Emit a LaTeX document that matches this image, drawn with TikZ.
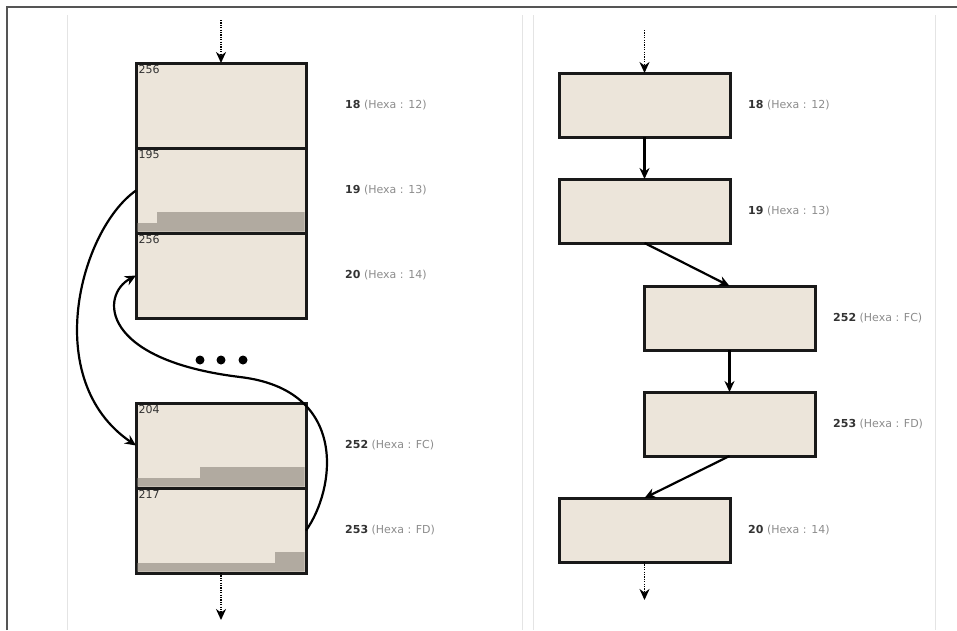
\documentclass[tikz,border=0pt]{standalone}
\usepackage{fontspec}
\setmainfont{DejaVu Sans}
\usetikzlibrary{arrows.meta,positioning}
\definecolor{boxfill}{HTML}{ECE5DA}
\definecolor{barfill}{HTML}{B1AAA0}
\definecolor{lblgray}{HTML}{8C8C8C}
\definecolor{numgray}{HTML}{333333}
\definecolor{rulegray}{HTML}{E4E4E4}
\definecolor{framegray}{HTML}{555555}
\tikzset{
  blk/.style={draw=black!90, line width=3pt, fill=boxfill, minimum width=170pt,
    minimum height=85pt, inner sep=0pt, outer sep=0pt},
  rblk/.style={blk, minimum width=171pt, minimum height=64pt},
  lnk/.style={line width=2.2pt, -{Stealth[length=11pt,width=10pt]}},
  dotlnk/.style={lnk, line width=1.8pt, dash pattern=on 1.2pt off 1.2pt},
  lbl/.style={font=\fontsize{11}{13}\selectfont, text=lblgray, inner sep=0pt},
  num/.style={font=\fontsize{11}{13}\selectfont, text=numgray, inner sep=2.5pt, anchor=north west},
}
\newcommand{\hexa}[2]{\textbf{\color{numgray}#1} (Hexa : #2)}
\begin{document}
\begin{tikzpicture}[x=1pt,y=-1pt]
 \useasboundingbox (0,0) rectangle (957,630);
 % frame and page rules
 \draw[framegray, line width=1.2pt] (7,630) -- (7,7) -- (957,7);
 \foreach \x in {67,522,533,935}
   \draw[rulegray, line width=1pt] (\x,15) -- (\x,630);

 % left: blocks on disk
 \node[blk] (b1) at (221,105.5) {};
 \node[blk, below=0pt of b1] (b2) {};
 \node[blk, below=0pt of b2] (b3) {};
 \node[blk] (b4) at (221,445.5) {};
 \node[blk, below=0pt of b4] (b5) {};
 \fill[barfill] (137.5,223) -- (157,223) -- (157,212) -- (304.5,212) -- (304.5,231.5) -- (137.5,231.5) -- cycle;
 \fill[barfill] (137.5,478) -- (200,478) -- (200,467) -- (304.5,467) -- (304.5,486.5) -- (137.5,486.5) -- cycle;
 \fill[barfill] (137.5,563) -- (275,563) -- (275,552) -- (304.5,552) -- (304.5,571.5) -- (137.5,571.5) -- cycle;
 \node[num] at (b1.north west) {256};
 \node[num] at (b2.north west) {195};
 \node[num] at (b3.north west) {256};
 \node[num] at (b4.north west) {204};
 \node[num] at (b5.north west) {217};
 \node[lbl, right=39pt of b1] (l1) {\hexa{18}{12}};
 \node[lbl, right=39pt of b2] (l2) {\hexa{19}{13}};
 \node[lbl, right=39pt of b3] (l3) {\hexa{20}{14}};
 \node[lbl, right=39pt of b4] (l4) {\hexa{252}{FC}};
 \node[lbl, right=39pt of b5] (l5) {\hexa{253}{FD}};
 \foreach \x in {200,221,243}
   \fill (\x,360) circle (4.5);
 \coordinate (lin) at (221,20);
 \coordinate (lout) at (221,620);
 \draw[dotlnk] (lin) -- (b1.north);
 \draw[dotlnk] (b5.south) -- (lout);
 \draw[lnk] (b2.west) .. controls (80,230) and (40,380) .. (b4.west);
 \draw[lnk] (b5.east) .. controls (335,490) and (350,390) .. (240,377)
   .. controls (100,360) and (100,295) .. (b3.west);

 % right: logical chain
 \node[rblk] (r1) at (644.5,105) {};
 \node[rblk, below=42pt of r1] (r2) {};
 \node[rblk] (r3) at (729.5,318) {};
 \node[rblk, below=42pt of r3] (r4) {};
 \node[rblk] (r5) at (644.5,530) {};
 \node[lbl, right=18pt of r1] (m1) {\hexa{18}{12}};
 \node[lbl, right=18pt of r2] (m2) {\hexa{19}{13}};
 \node[lbl, right=18pt of r3] (m3) {\hexa{252}{FC}};
 \node[lbl, right=18pt of r4] (m4) {\hexa{253}{FD}};
 \node[lbl, right=18pt of r5] (m5) {\hexa{20}{14}};
 \coordinate (rin) at (644.5,30);
 \coordinate (rout) at (644.5,600);
 \draw[dotlnk] (rin) -- (r1.north);
 \draw[lnk] (r1.south) -- (r2.north);
 \draw[lnk] (r2.south) -- (r3.north);
 \draw[lnk] (r3.south) -- (r4.north);
 \draw[lnk] (r4.south) -- (r5.north);
 \draw[dotlnk] (r5.south) -- (rout);
\end{tikzpicture}
\end{document}
